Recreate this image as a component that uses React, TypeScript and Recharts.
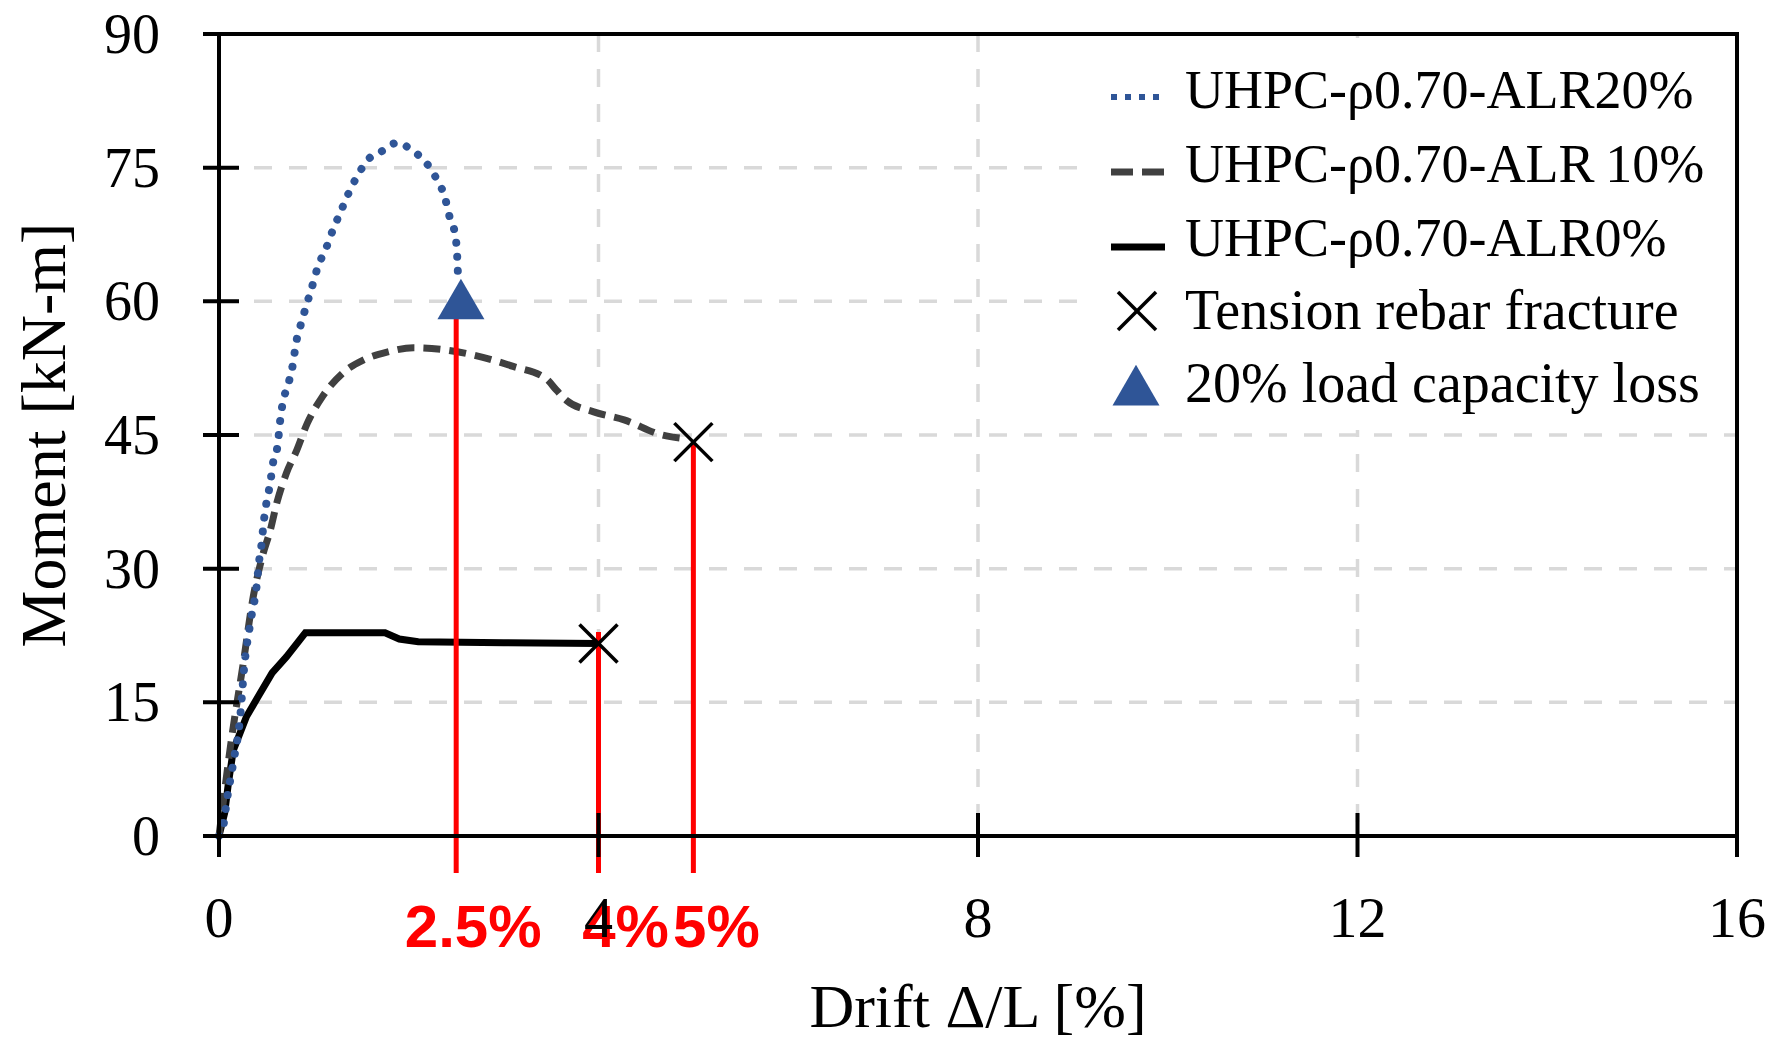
import React from "react"
import {
  ComposedChart,
  Line,
  Scatter,
  XAxis,
  YAxis,
  CartesianGrid,
  ReferenceLine,
  ReferenceArea,
  Legend,
  Label,
} from "recharts"

const SERIF = '"Liberation Serif", "Times New Roman", serif'
const SANS = '"Liberation Sans", Arial, sans-serif'

// moment–drift traces, drift in %, moment in kN-m
const alr20Drift = [0, 0.05, 0.08, 0.15, 0.22, 0.27, 0.33, 0.4, 0.42, 0.45, 0.47, 0.5, 0.54, 0.57, 0.62, 0.64, 0.67, 0.73, 0.78, 0.81, 0.86, 0.92, 0.98, 1.04, 1.13, 1.2, 1.28, 1.36, 1.46, 1.57, 1.71, 1.88, 2.04, 2.18, 2.29, 2.38, 2.43, 2.49, 2.51, 2.52]
const alr20Moment = [0, 1.4, 3.8, 8.2, 13, 19.4, 23.9, 28.4, 30.6, 32.9, 35.1, 37.4, 39.6, 41.9, 44, 46.2, 48.5, 50.7, 53, 55.2, 57.3, 59.5, 61.6, 63.8, 66, 68, 70, 72, 74.1, 75.9, 76.8, 77.8, 76.9, 75.6, 73.8, 71.7, 69.5, 67.4, 65.2, 62.6]

const alr10Drift = [0, 0.14, 0.25, 0.36, 0.46, 0.54, 0.61, 0.71, 0.82, 0.93, 1.09, 1.31, 1.52, 1.77, 2.05, 2.35, 2.67, 3.1, 3.45, 3.56, 3.66, 3.95, 4.27, 4.67, 4.9]
const alr10Moment = [0, 11.5, 19, 26.8, 31.5, 34.3, 37.4, 40.7, 43.3, 46.3, 49.3, 52, 53.4, 54.3, 54.8, 54.6, 54, 52.7, 51.3, 50, 48.9, 47.6, 46.7, 45, 44.6]

const alr0Drift = [0, 0.06, 0.1, 0.15, 0.29, 0.41, 0.56, 0.71, 0.91, 1.75, 1.9, 2.1, 3.0, 4.0]
const alr0Moment = [0, 2.6, 6, 9.6, 13.4, 15.6, 18.3, 20.1, 22.8, 22.8, 22.1, 21.8, 21.7, 21.6]

// event markers
const fractureDrift = [4, 5]
const fractureMoment = [21.6, 44.2]
const lossDrift = [2.55]
const lossMoment = [59.5]

// red drift call-outs
const calloutDrift = [2.5, 4, 5]
const calloutTop = [61, 22.9, 44.1]
const calloutText = ["2.5%", "4%", "5%"]

const xTicks = [0, 4, 8, 12, 16]
const yTicks = [0, 15, 30, 45, 60, 75, 90]

const legendNames = [
  "UHPC-ρ0.70-ALR20%",
  "UHPC-ρ0.70-ALR\u200910%",
  "UHPC-ρ0.70-ALR0%",
  "Tension rebar fracture",
  "20% load capacity loss",
]

const BLUE = "#2F5597"
const GREY = "#404040"
const RED = "#FF0000"

const AXIS_X = 219
const AXIS_Y = 836
const LEADER_BOTTOM = -4.15
const calloutShift = [17, 27, 23]

const toPoints = (xs: number[], ys: number[]) => xs.map((x, i) => ({ x, y: ys[i] }))

const alr20 = toPoints(alr20Drift, alr20Moment)
const alr10 = toPoints(alr10Drift, alr10Moment)
const alr0 = toPoints(alr0Drift, alr0Moment)
const fractures = toPoints(fractureDrift, fractureMoment)
const losses = toPoints(lossDrift, lossMoment)
const callouts = calloutDrift.map((x, i) => ({ x, y: 0, text: calloutText[i], idx: i }))

function YTick(props: any) {
  const { y, payload } = props
  return (
    <g>
      <line x1={AXIS_X - 16} x2={AXIS_X + 20} y1={y} y2={y} stroke="#000" strokeWidth={4} />
      <text x={160} y={y + 19} textAnchor="end" fontFamily={SERIF} fontSize={56} fill="#000">
        {payload.value}
      </text>
    </g>
  )
}

function XTick(props: any) {
  const { x, payload } = props
  return (
    <g>
      <line x1={x} x2={x} y1={AXIS_Y - 23} y2={AXIS_Y + 21} stroke="#000" strokeWidth={4} />
      <text x={x} y={AXIS_Y + 101} textAnchor="middle" fontFamily={SERIF} fontSize={58} fill="#000">
        {payload.value}
      </text>
    </g>
  )
}

function XMark(props: any) {
  const { cx, cy, color } = props
  if (cx == null || cy == null) return null
  const h = 19
  return (
    <g stroke={color || "#000"} strokeWidth={3.5}>
      <line x1={cx - h} y1={cy - h} x2={cx + h} y2={cy + h} />
      <line x1={cx - h} y1={cy + h} x2={cx + h} y2={cy - h} />
    </g>
  )
}

function Triangle(props: any) {
  const { cx, cy } = props
  if (cx == null || cy == null) return null
  const s = 47
  const h = (s * Math.sqrt(3)) / 2
  const pts = `${cx},${cy - (2 * h) / 3} ${cx - s / 2},${cy + h / 3} ${cx + s / 2},${cy + h / 3}`
  return <polygon points={pts} fill={BLUE} />
}

function Callout(props: any) {
  const { cx, cy, payload } = props
  if (cx == null || cy == null) return null
  return (
    <text
      x={cx + calloutShift[payload.idx]}
      y={cy + 111}
      textAnchor="middle"
      fontFamily={SANS}
      fontWeight="bold"
      fontSize={60}
      fill={RED}
    >
      {payload.text}
    </text>
  )
}

function LegendBox() {
  const rowBase = [70, 144, 218, 291, 364]
  return (
    <svg width={643} height={392} style={{ display: "block", background: "#fff" }}>
      {legendNames.map((name, i) => {
        const b = rowBase[i]
        let sample: React.ReactNode = null
        if (i === 0)
          sample = <line x1={19} x2={73} y1={b - 11} y2={b - 11} stroke={BLUE} strokeWidth={6} strokeDasharray="6 8" />
        if (i === 1)
          sample = <line x1={19} x2={73} y1={b - 10} y2={b - 10} stroke={GREY} strokeWidth={7} strokeDasharray="22 9" />
        if (i === 2)
          sample = <line x1={19} x2={73} y1={b - 9} y2={b - 9} stroke="#000" strokeWidth={7} />
        if (i === 3) sample = <XMark cx={45} cy={b - 18} />
        if (i === 4) sample = <Triangle cx={44} cy={b - 10} />
        return (
          <g key={name}>
            {sample}
            <text x={93} y={b} fontFamily={SERIF} fontSize={i >= 3 ? 56 : 54} fill="#000">
              {name}
            </text>
          </g>
        )
      })}
    </svg>
  )
}

export default function App() {
  return (
    <div style={{ position: "absolute", left: 0, top: 0, background: "#fff" }}>
      <ComposedChart width={1779} height={1045} margin={{ top: 34, right: 42, left: 0, bottom: 0 }}>
        <CartesianGrid stroke="#D9D9D9" strokeWidth={3.5} strokeDasharray="18 17" />
        <XAxis
          type="number"
          dataKey="x"
          domain={[0, 16]}
          ticks={xTicks}
          height={209}
          axisLine={{ stroke: "#000", strokeWidth: 4 }}
          tickLine={false}
          tick={<XTick />}
          interval={0}
        >
          <Label
            content={(p: any) => (
              <text
                x={p.viewBox.x + p.viewBox.width / 2}
                y={AXIS_Y + 191}
                textAnchor="middle"
                fontFamily={SERIF}
                fontSize={62}
                fill="#000"
              >
                Drift Δ/L [%]
              </text>
            )}
          />
        </XAxis>
        <YAxis
          type="number"
          dataKey="y"
          domain={[0, 90]}
          ticks={yTicks}
          width={AXIS_X}
          axisLine={{ stroke: "#000", strokeWidth: 4 }}
          tickLine={false}
          tick={<YTick />}
          interval={0}
        >
          <Label
            content={(p: any) => {
              const cy = p.viewBox.y + p.viewBox.height / 2
              return (
                <text
                  x={65}
                  y={cy}
                  transform={`rotate(-90, 65, ${cy})`}
                  textAnchor="middle"
                  fontFamily={SERIF}
                  fontSize={64}
                  fill="#000"
                >
                  Moment [kN-m]
                </text>
              )
            }}
          />
        </YAxis>
        <ReferenceArea x1={0} x2={16} y1={0} y2={90} fill="none" fillOpacity={0} stroke="#000" strokeWidth={4} />
        <Line
          data={alr0}
          dataKey="y"
          type="linear"
          stroke="#000"
          strokeWidth={7}
          dot={false}
          activeDot={false}
          isAnimationActive={false}
        />
        <Line
          data={alr10}
          dataKey="y"
          type="monotone"
          stroke={GREY}
          strokeWidth={7}
          strokeDasharray="17 9"
          dot={false}
          activeDot={false}
          isAnimationActive={false}
        />
        <Line
          data={alr20}
          dataKey="y"
          type="monotone"
          stroke={BLUE}
          strokeWidth={8}
          strokeDasharray="0.01 14"
          strokeLinecap="round"
          dot={false}
          activeDot={false}
          isAnimationActive={false}
        />
        <Scatter data={fractures} shape={<XMark />} isAnimationActive={false} />
        <Scatter data={losses} shape={<Triangle />} isAnimationActive={false} />
        {calloutDrift.map((d, i) => (
          <ReferenceLine
            key={calloutText[i]}
            segment={[
              { x: d, y: calloutTop[i] },
              { x: d, y: LEADER_BOTTOM },
            ]}
            stroke={RED}
            strokeWidth={5}
            ifOverflow="visible"
          />
        ))}
        <Scatter data={callouts} shape={<Callout />} isAnimationActive={false} />
        <Legend
          layout="vertical"
          align="center"
          verticalAlign="middle"
          wrapperStyle={{ left: 1092, top: 38, width: 643, height: 392, background: "#fff" }}
          content={() => <LegendBox />}
        />
      </ComposedChart>
    </div>
  )
}
